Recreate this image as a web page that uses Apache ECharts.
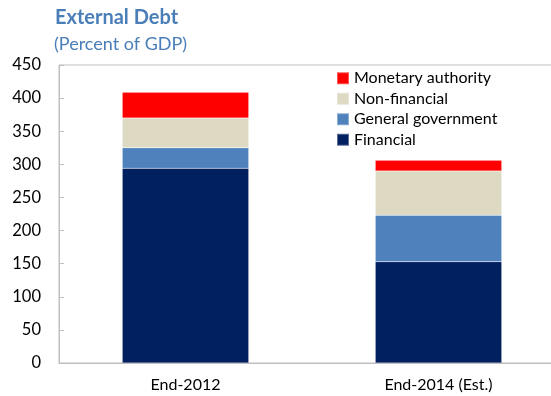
<!DOCTYPE html>
<html>
<head>
<meta charset="utf-8">
<script src="https://cdn.jsdelivr.net/npm/echarts@6/dist/echarts.min.js"></script>
<style>
  html, body { margin: 0; padding: 0; background: #fff; }
  #chart { width: 551px; height: 396px; }
</style>
</head>
<body>
<div id="chart"></div>
<script>
// External debt by sector, percent of GDP
const categories = ['End-2012', 'End-2014 (Est.)'];
const financial = [294, 153];
const generalGovernment = [31, 70];
const nonFinancial = [45, 67];
const monetaryAuthority = [39, 16];
const yTicks = { min: 0, max: 450, step: 50 };

const FONT = 'Lato, "Open Sans", sans-serif';

const chart = echarts.init(document.getElementById('chart'), null, { renderer: 'canvas' });

function barSeries(name, data, color) {
  return {
    name: name,
    type: 'bar',
    stack: 'debt',
    data: data,
    barWidth: '50%',
    itemStyle: { color: color, borderColor: 'rgba(255,255,255,0.35)', borderWidth: 0.5 },
    emphasis: { disabled: true }
  };
}

chart.setOption({
  animation: false,
  graphic: [
    {
      type: 'text', left: 55, top: 8,
      style: { text: 'External Debt', fontFamily: FONT, fontWeight: 'bold', fontSize: 20, fill: '#4A7EB8' }
    },
    {
      type: 'text', left: 54, top: 35,
      style: { text: '(Percent of GDP)', fontFamily: FONT, fontSize: 18, fill: '#4A7EB8' }
    }
  ],
  // plot frame runs past the right edge of the canvas
  grid: {
    left: 59, top: 65, width: 506, height: 298,
    outerBoundsMode: 'none', containLabel: false,
    show: true, borderColor: '#BFBFBF', borderWidth: 1, backgroundColor: 'transparent'
  },
  legend: {
    orient: 'vertical',
    left: 336, top: 68,
    padding: 0,
    itemWidth: 12, itemHeight: 12, itemGap: 0,
    icon: 'rect',
    textStyle: { fontFamily: FONT, fontSize: 16, color: '#000', lineHeight: 20.5 },
    data: ['Monetary authority', 'Non-financial', 'General government', 'Financial']
  },
  xAxis: {
    type: 'category',
    data: categories,
    axisLine: { lineStyle: { color: '#BFBFBF' } },
    axisTick: { inside: true, length: 6, lineStyle: { color: '#BFBFBF' } },
    axisLabel: { fontFamily: FONT, fontSize: 16, color: '#000', margin: 14 }
  },
  yAxis: {
    type: 'value',
    min: yTicks.min, max: yTicks.max, interval: yTicks.step,
    axisLine: { show: true, lineStyle: { color: '#BFBFBF' } },
    axisTick: { show: true, inside: true, length: 5, lineStyle: { color: '#BFBFBF' } },
    splitLine: { show: false },
    axisLabel: { fontFamily: FONT, fontSize: 16.5, color: '#000', margin: 18 }
  },
  series: [
    barSeries('Financial', financial, '#002060'),
    barSeries('General government', generalGovernment, '#4F81BD'),
    barSeries('Non-financial', nonFinancial, '#DDD9C3'),
    barSeries('Monetary authority', monetaryAuthority, '#FF0000')
  ]
});
</script>
</body>
</html>
